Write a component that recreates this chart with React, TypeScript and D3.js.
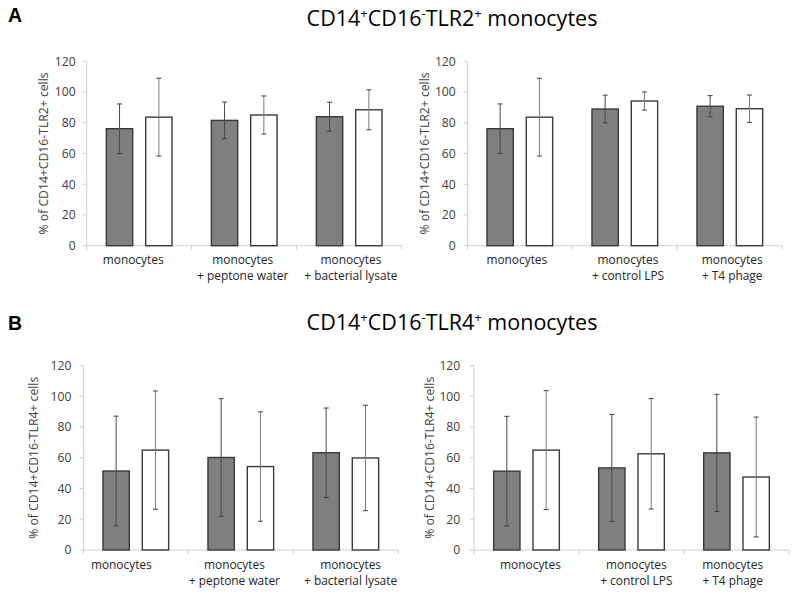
import React from "react";
import * as d3 from "d3";

// ---------- data ----------
const seriesNames = ["dark", "white"];
const yTicks = [0, 20, 40, 60, 80, 100, 120];

const catsLysate = [["monocytes"], ["monocytes", "+ peptone water"], ["monocytes", "+ bacterial lysate"]];
const catsPhage = [["monocytes"], ["monocytes", "+ control LPS"], ["monocytes", "+ T4 phage"]];

// TLR2 – lysate
const tlr2LysDark = [76.1, 81.5, 83.9];
const tlr2LysDarkErr = [16.1, 11.9, 9.4];
const tlr2LysWhite = [83.6, 85.0, 88.4];
const tlr2LysWhiteErr = [25.3, 12.4, 13.0];
// TLR2 – phage
const tlr2PhDark = [76.1, 88.9, 90.7];
const tlr2PhDarkErr = [16.1, 9.0, 6.9];
const tlr2PhWhite = [83.6, 94.1, 89.1];
const tlr2PhWhiteErr = [25.3, 5.9, 8.9];
// TLR4 – lysate
const tlr4LysDark = [51.4, 60.2, 63.3];
const tlr4LysDarkErr = [35.7, 38.3, 29.1];
const tlr4LysWhite = [65.0, 54.3, 59.9];
const tlr4LysWhiteErr = [38.5, 35.6, 34.3];
// TLR4 – phage
const tlr4PhDark = [51.3, 53.4, 63.2];
const tlr4PhDarkErr = [35.7, 34.8, 38.1];
const tlr4PhWhite = [65.0, 62.6, 47.5];
const tlr4PhWhiteErr = [38.7, 35.9, 39.0];

const yTitleTLR2 = "% of CD14+CD16-TLR2+ cells";
const yTitleTLR4 = "% of CD14+CD16-TLR4+ cells";

// ---------- layout ----------
const W = 796;
const H = 594;
const FONT = "'Open Sans', 'Noto Sans', sans-serif";

type Panel = {
  cats: string[][];
  dark: number[];
  darkErr: number[];
  white: number[];
  whiteErr: number[];
  yTitle: string;
  left: number;
  top: number;
  zero: number;
  titleX: number;
  labelDx: number[];
  tickGap: number;
};

const panels: Panel[] = [
  { cats: catsLysate, dark: tlr2LysDark, darkErr: tlr2LysDarkErr, white: tlr2LysWhite, whiteErr: tlr2LysWhiteErr,
    yTitle: yTitleTLR2, left: 86.7, top: 61.2, zero: 245.7, titleX: 43.5, labelDx: [-6, -1.5, 1.7], tickGap: 11 },
  { cats: catsPhage, dark: tlr2PhDark, darkErr: tlr2PhDarkErr, white: tlr2PhWhite, whiteErr: tlr2PhWhiteErr,
    yTitle: yTitleTLR2, left: 467.3, top: 61.2, zero: 245.7, titleX: 424.5, labelDx: [-3, 3.2, 2.4], tickGap: 11.5 },
  { cats: catsLysate, dark: tlr4LysDark, darkErr: tlr4LysDarkErr, white: tlr4LysWhite, whiteErr: tlr4LysWhiteErr,
    yTitle: yTitleTLR4, left: 83.3, top: 365.6, zero: 550, titleX: 33.5, labelDx: [-14.5, -6.4, 4.8], tickGap: 11.8 },
  { cats: catsPhage, dark: tlr4PhDark, darkErr: tlr4PhDarkErr, white: tlr4PhWhite, whiteErr: tlr4PhWhiteErr,
    yTitle: yTitleTLR4, left: 474, top: 365.6, zero: 550, titleX: 429.5, labelDx: [4, 4.8, -3.8], tickGap: 13.7 },
];

const PLOT_W = 315;
const axisColor = "#d0d0d0";
const textColor = "#404040";

function BarPanel({ p }: { p: Panel }) {
  const x0 = d3.scaleBand<number>().domain(d3.range(p.cats.length)).range([p.left, p.left + PLOT_W]).padding(0);
  const x1 = d3.scaleBand<string>().domain(seriesNames).range([0, x0.bandwidth()]).paddingInner(0.33).paddingOuter(0.5);
  const y = d3.scaleLinear().domain([0, 120]).range([p.zero, p.top]);

  const series = [
    { key: "dark", vals: p.dark, errs: p.darkErr, fill: "#7f7f7f", errColor: "#4a4a4a" },
    { key: "white", vals: p.white, errs: p.whiteErr, fill: "#ffffff", errColor: "#7a7a7a" },
  ];
  const bounds = d3.range(p.cats.length + 1).map((i) => p.left + i * x0.step());
  const cap = 2.5;

  return (
    <g>
      {/* y axis */}
      <line x1={p.left} x2={p.left} y1={y(120)} y2={y(0)} stroke={axisColor} strokeWidth={1} />
      {yTicks.map((t) => (
        <g key={t}>
          <line x1={p.left - 4} x2={p.left} y1={y(t)} y2={y(t)} stroke={axisColor} strokeWidth={1} />
          <text x={p.left - p.tickGap} y={y(t)} dy="0.36em" textAnchor="end" fontSize={12.2} fill={textColor} fontFamily={FONT}>
            {t}
          </text>
        </g>
      ))}
      {/* x axis */}
      <line x1={p.left} x2={p.left + PLOT_W} y1={y(0)} y2={y(0)} stroke={axisColor} strokeWidth={1} />
      {bounds.map((b, i) => (
        <line key={i} x1={b} x2={b} y1={y(0)} y2={y(0) + 4} stroke={axisColor} strokeWidth={1} />
      ))}
      {/* bars */}
      {series.map((s) =>
        s.vals.map((v, i) => {
          const bx = (x0(i) as number) + (x1(s.key) as number);
          return (
            <rect key={s.key + i} x={bx} y={y(v)} width={x1.bandwidth()} height={y(0) - y(v)}
              fill={s.fill} stroke="#3a3a3a" strokeWidth={1.4} />
          );
        })
      )}
      {/* error bars */}
      {series.map((s) =>
        s.vals.map((v, i) => {
          const cx = (x0(i) as number) + (x1(s.key) as number) + x1.bandwidth() / 2;
          const hi = y(v + s.errs[i]);
          const lo = y(v - s.errs[i]);
          return (
            <g key={"e" + s.key + i}>
              <line x1={cx} x2={cx} y1={hi} y2={lo} stroke={s.errColor} strokeWidth={1} />
              <line x1={cx - cap} x2={cx + cap} y1={hi} y2={hi} stroke="#404040" strokeWidth={1} />
              <line x1={cx - cap} x2={cx + cap} y1={lo} y2={lo} stroke="#404040" strokeWidth={1} />
            </g>
          );
        })
      )}
      {/* category labels */}
      {p.cats.map((lines, i) => {
        const cx = (x0(i) as number) + x0.bandwidth() / 2 + p.labelDx[i];
        return (
          <text key={"c" + i} textAnchor="middle" fontSize={11.9} fill="#262626" fontFamily={FONT}>
            {lines.map((l, j) => (
              <tspan key={j} x={cx} y={y(0) + 18.5 + j * 16}>{l}</tspan>
            ))}
          </text>
        );
      })}
      {/* y title */}
      <text transform={`translate(${p.titleX},${(y(0) + y(120)) / 2}) rotate(-90)`} textAnchor="middle" dy="0.35em"
        fontSize={12.2} fill={textColor} fontFamily={FONT}>
        {p.yTitle}
      </text>
    </g>
  );
}

function Title({ y, receptor }: { y: number; receptor: string }) {
  const sup = 13;
  const sh = 8.5;
  return (
    <text x={452} y={y} textAnchor="middle" fontSize={21.5} fill="#000" fontFamily={FONT}>
      CD14<tspan fontSize={sup} dy={-sh}>+</tspan>
      <tspan dy={sh}>CD16</tspan>
      <tspan fontSize={sup} dy={-sh}>-</tspan>
      <tspan dy={sh}>{receptor}</tspan>
      <tspan fontSize={sup} dy={-sh}>+</tspan>
      <tspan dy={sh}> monocytes</tspan>
    </text>
  );
}

export default function App() {
  return (
    <svg width={W} height={H} style={{ position: "absolute", left: 0, top: 0, background: "#fff" }}>
      <rect width={W} height={H} fill="#fff" />
      <text x={8} y={22} fontSize={19.5} fontWeight="bold" fontFamily="'Liberation Sans', Arial, sans-serif">A</text>
      <text x={8} y={330} fontSize={19.5} fontWeight="bold" fontFamily="'Liberation Sans', Arial, sans-serif">B</text>
      <Title y={26} receptor="TLR2" />
      <Title y={330} receptor="TLR4" />
      {panels.map((p, i) => (
        <BarPanel key={i} p={p} />
      ))}
    </svg>
  );
}
